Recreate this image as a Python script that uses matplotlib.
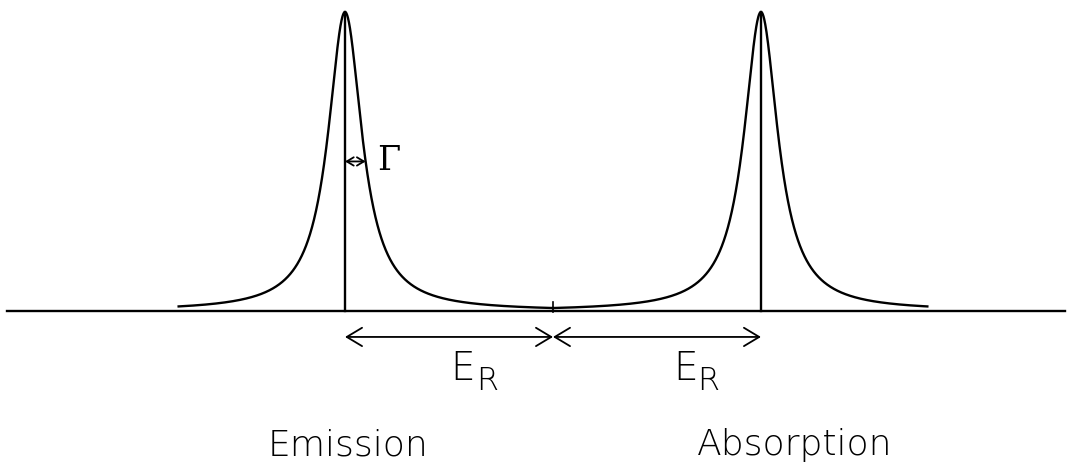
import numpy as np
import matplotlib
matplotlib.use("Agg")
import matplotlib.pyplot as plt

# Line centres (in units of the recoil energy E_R) and line width
peak_centres = [-1.0, 1.0]          # emission, absorption
peak_names = ["Emission", "Absorption"]
half_width = 0.099                  # Gamma (half width at half maximum)
peak_height = 1.0
curve_spans = [(-1.80, 0.0), (0.0, 1.80)]   # extent over which each line is drawn
baseline_span = (-2.625, 2.46)


def lorentzian(x, x0, g):
    return peak_height / (1.0 + ((x - x0) / g) ** 2)


fig = plt.figure(figsize=(10.75, 4.67), dpi=100)
ax = fig.add_axes([0, 0, 1, 1])
ax.set_xlim(-2.659, 2.510)
ax.set_ylim(-0.522, 1.040)
ax.axis("off")

lw = 1.7
ink = "black"

# baseline
ax.plot(baseline_span, [0, 0], color=ink, lw=lw)
# small tick at the unshifted energy
ax.plot([0, 0], [-0.005, 0.03], color=ink, lw=1.2)

for x0, (a, b) in zip(peak_centres, curve_spans):
    x = np.linspace(a, b, 1500)
    ax.plot(x, lorentzian(x, x0, half_width), color=ink, lw=lw)
    ax.plot([x0, x0], [0, peak_height], color=ink, lw=lw)

# recoil shift arrows
arrow_y = -0.087
for a, b in [(peak_centres[0], 0.0), (0.0, peak_centres[1])]:
    ax.annotate("", xy=(b, arrow_y), xytext=(a, arrow_y),
                arrowprops=dict(arrowstyle="<->,head_length=0.55,head_width=0.33",
                                mutation_scale=20, lw=1.3, color=ink,
                                shrinkA=0, shrinkB=0))

# line width marker
ax.annotate("", xy=(peak_centres[0] + half_width, 0.5),
            xytext=(peak_centres[0], 0.5),
            arrowprops=dict(arrowstyle="<->,head_length=0.5,head_width=0.3",
                            mutation_scale=10, lw=1.3, color=ink,
                            shrinkA=0, shrinkB=0))
ax.text(peak_centres[0] + 0.21, 0.503, "Γ", family="DejaVu Serif",
        fontsize=24, ha="center", va="center", color=ink)

# E_R labels (E with a subscript R)
for xe, xr in [(-0.495, -0.372), (0.577, 0.695)]:
    ax.text(xe, -0.231, "E", fontsize=28, ha="left", va="baseline",
            color=ink, fontweight="light")
    ax.text(xr, -0.264, "R", fontsize=23, ha="left", va="baseline",
            color=ink, fontweight="light")

# line names
for xl, name in zip([-1.370, 0.692], peak_names):
    ax.text(xl, -0.482, name, fontsize=26, ha="left", va="baseline",
            color=ink, fontweight="light")

fig.savefig("out.png", dpi=100)
